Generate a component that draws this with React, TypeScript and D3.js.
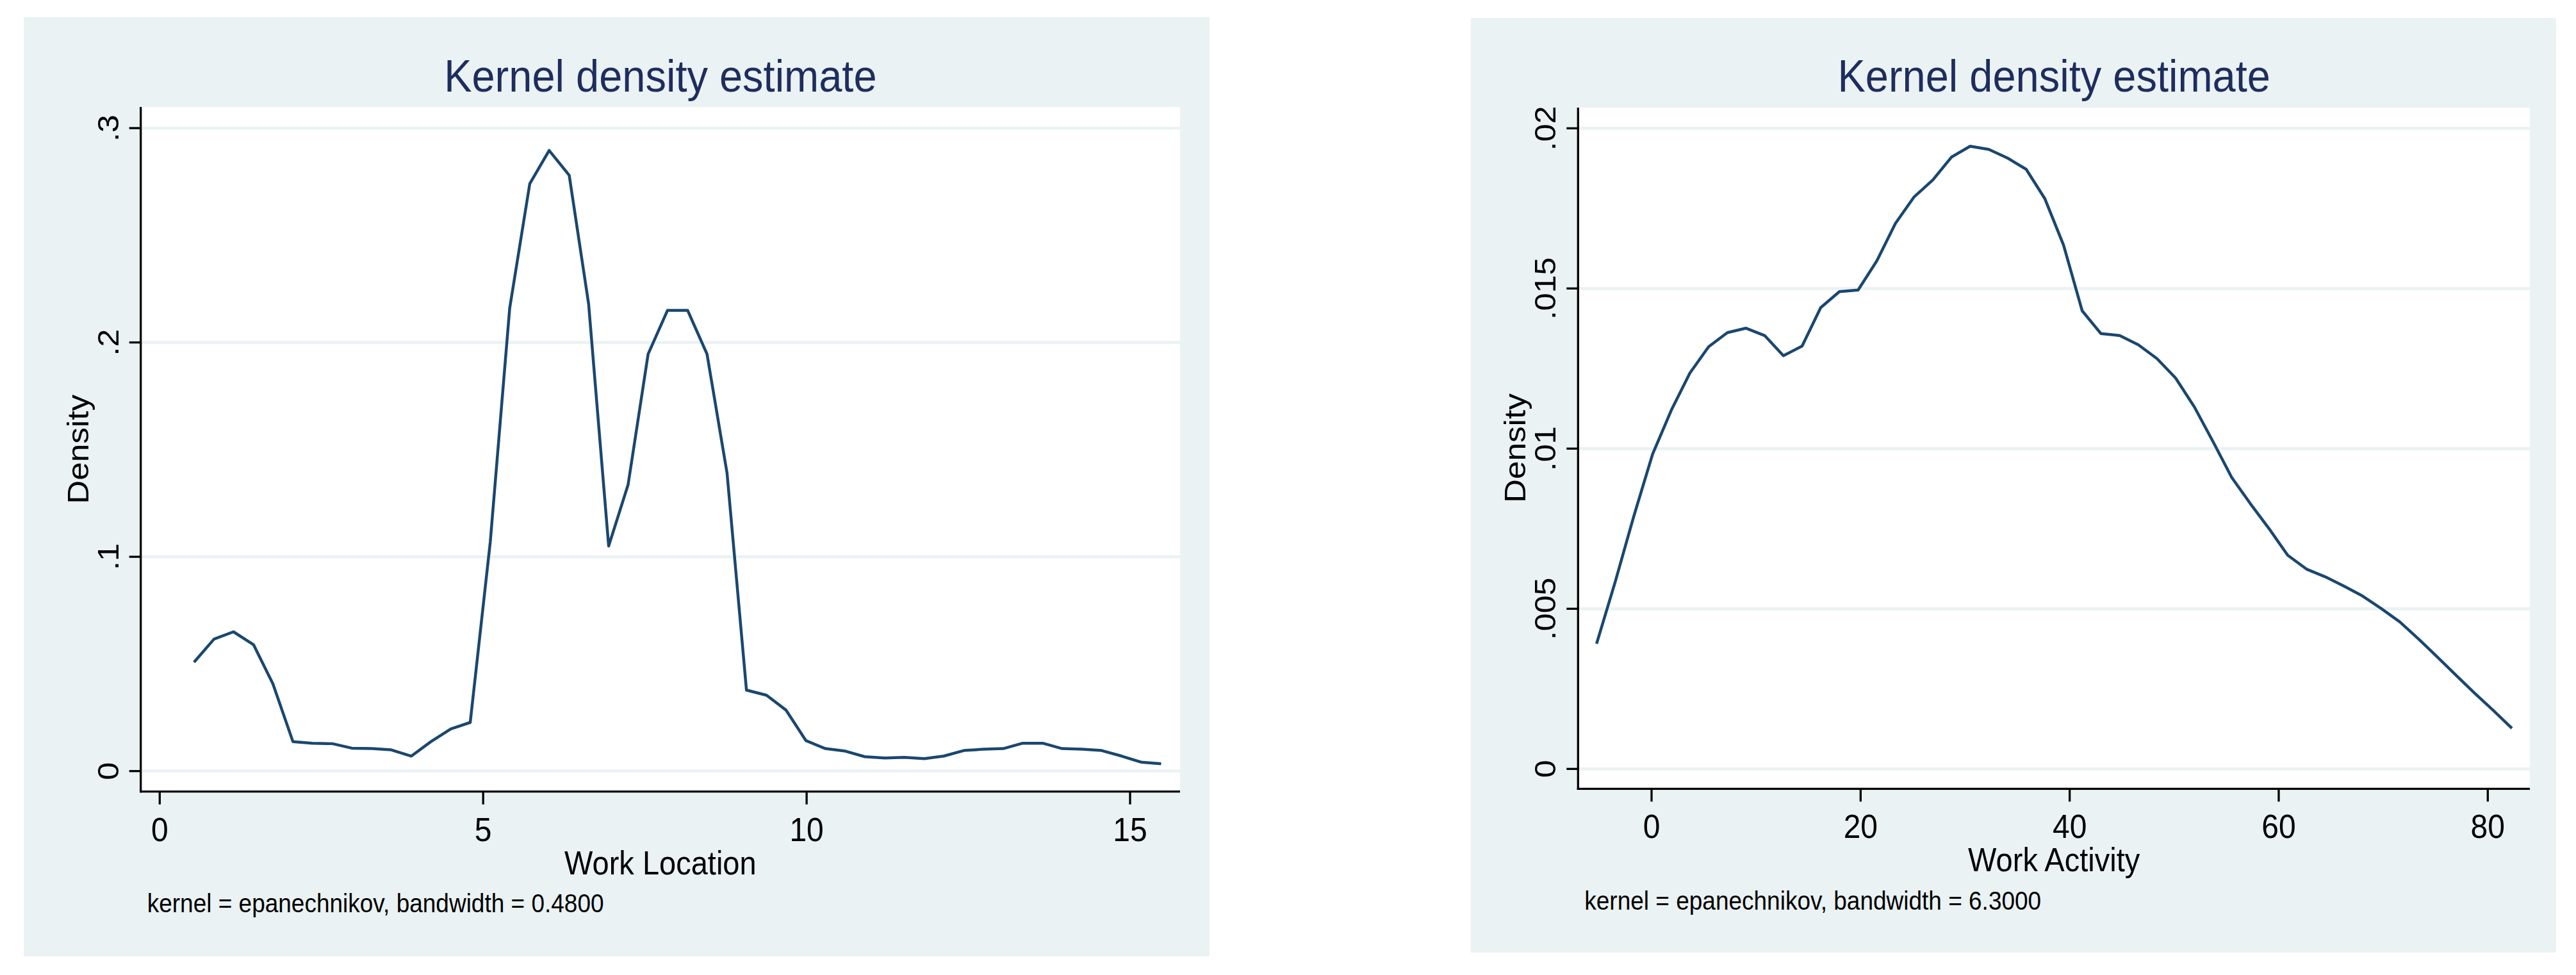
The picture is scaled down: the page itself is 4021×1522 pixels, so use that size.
import * as d3 from 'd3'

// Kernel density estimates (Stata kdensity, 50 evaluation points each)
const LOC_X = [0.53, 0.84, 1.14, 1.45, 1.75, 2.06, 2.36, 2.67, 2.97, 3.28, 3.58, 3.89, 4.19, 4.5, 4.8, 5.11, 5.41, 5.72, 6.02, 6.33, 6.63, 6.94, 7.24, 7.55, 7.85, 8.16, 8.46, 8.77, 9.07, 9.38, 9.68, 9.99, 10.29, 10.6, 10.9, 11.21, 11.51, 11.82, 12.12, 12.43, 12.73, 13.04, 13.34, 13.65, 13.95, 14.26, 14.56, 14.87, 15.17, 15.48]
const LOC_DENSITY = [0.0508, 0.0616, 0.065, 0.059, 0.0407, 0.0137, 0.013, 0.0128, 0.0107, 0.0105, 0.0099, 0.007, 0.0137, 0.0197, 0.0227, 0.107, 0.216, 0.274, 0.2896, 0.278, 0.218, 0.105, 0.1336, 0.1946, 0.215, 0.215, 0.1946, 0.139, 0.0378, 0.0354, 0.0285, 0.0142, 0.0105, 0.0093, 0.0067, 0.0061, 0.0064, 0.0058, 0.007, 0.0096, 0.0102, 0.0105, 0.013, 0.013, 0.0105, 0.0102, 0.0096, 0.007, 0.0042, 0.0034]

const ACT_X = [-5.26, -3.47, -1.69, 0.1, 1.89, 3.67, 5.46, 7.25, 9.04, 10.82, 12.61, 14.4, 16.18, 17.97, 19.76, 21.55, 23.33, 25.12, 26.91, 28.69, 30.48, 32.27, 34.06, 35.84, 37.63, 39.42, 41.2, 42.99, 44.78, 46.57, 48.35, 50.14, 51.93, 53.71, 55.5, 57.29, 59.08, 60.86, 62.65, 64.44, 66.22, 68.01, 69.8, 71.59, 73.37, 75.16, 76.95, 78.73, 80.52, 82.31]
const ACT_DENSITY = [0.00391, 0.00585, 0.0079, 0.00983, 0.0112, 0.01236, 0.01318, 0.01362, 0.01376, 0.01353, 0.0129, 0.0132, 0.0144, 0.0149, 0.01495, 0.01586, 0.01703, 0.01786, 0.01839, 0.0191, 0.01944, 0.01934, 0.01907, 0.01872, 0.0178, 0.01635, 0.0143, 0.01359, 0.01353, 0.01324, 0.01281, 0.0122, 0.0113, 0.01022, 0.0091, 0.00828, 0.0075, 0.00667, 0.00624, 0.006, 0.00571, 0.0054, 0.00501, 0.00459, 0.00406, 0.0035, 0.00293, 0.00237, 0.00183, 0.00127]

const LOC_XTICKS = [0, 5, 10, 15]
const LOC_YTICKS = [0, 0.1, 0.2, 0.3]
const LOC_YLABELS = ['0', '.1', '.2', '.3']

const ACT_XTICKS = [0, 20, 40, 60, 80]
const ACT_YTICKS = [0, 0.005, 0.01, 0.015, 0.02]
const ACT_YLABELS = ['0', '.005', '.01', '.015', '.02']

const WIDTH = 4021
const HEIGHT = 1522
const SY = 1.09 // source image is slightly stretched vertically
const FONT = '"Liberation Sans", Arial, Helvetica, sans-serif'
const BG = '#eaf2f3'
const LINE = '#1a476f'
const TITLE_COLOR = '#1e2d5e'

interface Box { left: number; top: number; right: number; bottom: number }

interface PanelProps {
  bg: Box
  plot: Box
  x: d3.ScaleLinear<number, number>
  y: d3.ScaleLinear<number, number>
  xTicks: number[]
  yTicks: number[]
  yLabels: string[]
  xs: number[]
  ys: number[]
  xTitle: string
  note: string
}

const hText = (x: number, y: number) => `translate(${x},${y}) scale(1,${SY})`
const vText = (x: number, y: number) => `translate(${x},${y}) scale(1,${SY}) rotate(-90)`

function Panel({ bg, plot, x, y, xTicks, yTicks, yLabels, xs, ys, xTitle, note }: PanelProps) {
  const pts = xs.map((v, i) => [v, ys[i]] as [number, number])
  const line = d3.line<[number, number]>()
    .x(d => x(d[0]))
    .y(d => y(d[1]))
  const cx = (plot.left + plot.right) / 2
  const cy = (plot.top + plot.bottom) / 2
  const labelX = plot.left - 35

  return (
    <g>
      <rect x={bg.left} y={bg.top} width={bg.right - bg.left} height={bg.bottom - bg.top} fill={BG} />
      <rect x={plot.left} y={plot.top} width={plot.right - plot.left} height={plot.bottom - plot.top} fill="#fff" />

      {/* grid */}
      {yTicks.map(t => (
        <line key={`g${t}`} x1={plot.left} x2={plot.right} y1={y(t)} y2={y(t)} stroke={BG} strokeWidth={4.7} />
      ))}

      {/* density curve */}
      <path d={line(pts) || ''} fill="none" stroke={LINE} strokeWidth={4.5} strokeLinejoin="round" />

      {/* axes */}
      <line x1={plot.left} x2={plot.left} y1={plot.top} y2={plot.bottom + 1.6} stroke="#000" strokeWidth={3.3} />
      <line x1={plot.left - 1.6} x2={plot.right} y1={plot.bottom} y2={plot.bottom} stroke="#000" strokeWidth={3.3} />

      {yTicks.map((t, i) => (
        <g key={`y${t}`}>
          <line x1={plot.left - 18} x2={plot.left} y1={y(t)} y2={y(t)} stroke="#000" strokeWidth={3.3} />
          <text transform={vText(labelX, y(t))} textAnchor="middle" fontSize={46} fill="#000">{yLabels[i]}</text>
        </g>
      ))}

      {xTicks.map(t => (
        <g key={`x${t}`}>
          <line x1={x(t)} x2={x(t)} y1={plot.bottom} y2={plot.bottom + 20} stroke="#000" strokeWidth={3.3} />
          <text transform={hText(x(t), plot.bottom + 77)} textAnchor="middle" fontSize={48} fill="#000">{t}</text>
        </g>
      ))}

      <text transform={hText(cx, 143)} textAnchor="middle" fontSize={65} fill={TITLE_COLOR}>Kernel density estimate</text>
      <text transform={vText(labelX - 47, cy)} textAnchor="middle" fontSize={47} fill="#000">Density</text>
      <text transform={hText(cx, plot.bottom + 129)} textAnchor="middle" fontSize={47} fill="#000">{xTitle}</text>
      <text transform={hText(plot.left + 10, plot.bottom + 188.5)} fontSize={37} fill="#000">{note}</text>
    </g>
  )
}

export default function App() {
  const locX = d3.scaleLinear().domain([0, 15]).range([249.3, 1764])
  const locY = d3.scaleLinear().domain([0, 0.3]).range([1203.7, 200])
  const actX = d3.scaleLinear().domain([0, 80]).range([2578, 3883.3])
  const actY = d3.scaleLinear().domain([0, 0.02]).range([1200.3, 200.3])

  return (
    <svg
      width={WIDTH}
      height={HEIGHT}
      viewBox={`0 0 ${WIDTH} ${HEIGHT}`}
      style={{ position: 'absolute', left: 0, top: 0, background: '#fff', fontFamily: FONT }}
    >
      <Panel
        bg={{ left: 37, top: 27, right: 1888, bottom: 1493 }}
        plot={{ left: 219.7, top: 167, right: 1842, bottom: 1235.7 }}
        x={locX}
        y={locY}
        xTicks={LOC_XTICKS}
        yTicks={LOC_YTICKS}
        yLabels={LOC_YLABELS}
        xs={LOC_X}
        ys={LOC_DENSITY}
        xTitle="Work Location"
        note="kernel = epanechnikov, bandwidth = 0.4800"
      />
      <Panel
        bg={{ left: 2295.7, top: 28, right: 3990, bottom: 1487 }}
        plot={{ left: 2463.3, top: 168, right: 3949, bottom: 1231.3 }}
        x={actX}
        y={actY}
        xTicks={ACT_XTICKS}
        yTicks={ACT_YTICKS}
        yLabels={ACT_YLABELS}
        xs={ACT_X}
        ys={ACT_DENSITY}
        xTitle="Work Activity"
        note="kernel = epanechnikov, bandwidth = 6.3000"
      />
    </svg>
  )
}
